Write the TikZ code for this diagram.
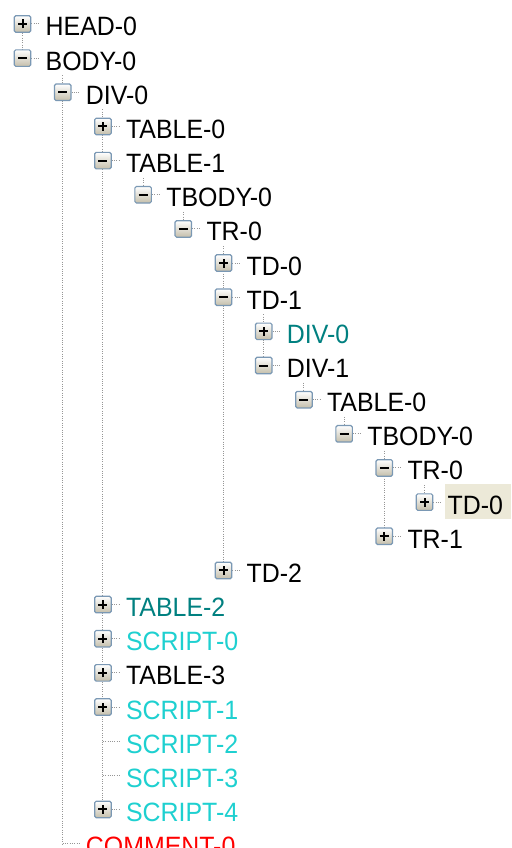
\documentclass[tikz,border=0pt]{standalone}
\usepackage{fontspec}
\newfontfamily\treefont[FakeStretch=0.94]{Liberation Sans}
\pgfdeclarelayer{background}
\pgfsetlayers{background,main}
\definecolor{boxblue}{RGB}{122,152,180}
\definecolor{boxbot}{RGB}{196,190,170}
\definecolor{dotgrey}{RGB}{150,150,150}
\definecolor{tealtxt}{RGB}{0,128,128}
\definecolor{cyantxt}{RGB}{30,208,208}
\definecolor{redtxt}{RGB}{255,0,0}
\definecolor{hilite}{RGB}{236,233,216}
\tikzset{
  treebox/.style={draw=boxblue, line width=1.2pt, rounded corners=1.5pt, minimum size=16.5pt, inner sep=0pt, top color=white, bottom color=boxbot},
  plusbox/.style={treebox, path picture={
      \draw[black, line width=2pt] ([xshift=-4.5pt]path picture bounding box.center) -- ([xshift=4.5pt]path picture bounding box.center);
      \draw[black, line width=2pt] ([yshift=-4.5pt]path picture bounding box.center) -- ([yshift=4.5pt]path picture bounding box.center);}},
  minusbox/.style={treebox, path picture={
      \draw[black, line width=2pt] ([xshift=-4.5pt]path picture bounding box.center) -- ([xshift=4.5pt]path picture bounding box.center);}},
  lbl/.style={anchor=base west, inner xsep=5pt, inner ysep=0pt, font=\treefont\fontsize{26.5}{30}\selectfont},
  treeline/.style={dotgrey, line width=1pt, dash pattern=on 1pt off 1.3pt},
}
% #1 index, #2 level, #3 box style, #4 colour, #5 label
\newcommand\boxrow[5]{%
  \coordinate (r#1) at ({22.5+40.2*#2},{24+34.15*#1});
  \node[#3] (b#1) at (r#1) {};
  \node[lbl, text=#4] (t#1) at ([xshift=18pt,yshift=-12pt]r#1) {#5};
  \begin{pgfonlayer}{background}
    \draw[treeline] (b#1.east) -- (b#1 -| t#1.west);
  \end{pgfonlayer}}
\newcommand\leafrow[4]{%
  \coordinate (r#1) at ({22.5+40.2*#2},{24+34.15*#1});
  \node[lbl, text=#3] (t#1) at ([xshift=18pt,yshift=-12pt]r#1) {#4};
  \begin{pgfonlayer}{background}
    \draw[treeline] (r#1) -- (r#1 -| t#1.west);
  \end{pgfonlayer}}
\begin{document}
\begin{tikzpicture}[x=1pt,y=-1pt]
\path[use as bounding box, clip] (0,0) rectangle (511,848);
\begin{pgfonlayer}{background}
  \fill[white] (0,0) rectangle (511,848);
  \fill[hilite] (445,484) rectangle (511,519);
\end{pgfonlayer}
\boxrow{0}{0}{plusbox}{black}{HEAD-0}
\boxrow{1}{0}{minusbox}{black}{BODY-0}
\boxrow{2}{1}{minusbox}{black}{DIV-0}
\boxrow{3}{2}{plusbox}{black}{TABLE-0}
\boxrow{4}{2}{minusbox}{black}{TABLE-1}
\boxrow{5}{3}{minusbox}{black}{TBODY-0}
\boxrow{6}{4}{minusbox}{black}{TR-0}
\boxrow{7}{5}{plusbox}{black}{TD-0}
\boxrow{8}{5}{minusbox}{black}{TD-1}
\boxrow{9}{6}{plusbox}{tealtxt}{DIV-0}
\boxrow{10}{6}{minusbox}{black}{DIV-1}
\boxrow{11}{7}{minusbox}{black}{TABLE-0}
\boxrow{12}{8}{minusbox}{black}{TBODY-0}
\boxrow{13}{9}{minusbox}{black}{TR-0}
\boxrow{14}{10}{plusbox}{black}{TD-0}
\boxrow{15}{9}{plusbox}{black}{TR-1}
\boxrow{16}{5}{plusbox}{black}{TD-2}
\boxrow{17}{2}{plusbox}{tealtxt}{TABLE-2}
\boxrow{18}{2}{plusbox}{cyantxt}{SCRIPT-0}
\boxrow{19}{2}{plusbox}{black}{TABLE-3}
\boxrow{20}{2}{plusbox}{cyantxt}{SCRIPT-1}
\leafrow{21}{2}{cyantxt}{SCRIPT-2}
\leafrow{22}{2}{cyantxt}{SCRIPT-3}
\boxrow{23}{2}{plusbox}{cyantxt}{SCRIPT-4}
\leafrow{24}{1}{redtxt}{COMMENT-0}
\begin{pgfonlayer}{background}
  \draw[treeline] (r0) -- (r1);
  \draw[treeline] ([yshift=17pt]r2) -- (r24);
  \draw[treeline] ([yshift=17pt]r3) -- (r23);
  \draw[treeline] ([yshift=17pt]r5) -- (r5);
  \draw[treeline] ([yshift=17pt]r6) -- (r6);
  \draw[treeline] ([yshift=17pt]r7) -- (r16);
  \draw[treeline] ([yshift=17pt]r9) -- (r10);
  \draw[treeline] ([yshift=17pt]r11) -- (r11);
  \draw[treeline] ([yshift=17pt]r12) -- (r12);
  \draw[treeline] ([yshift=17pt]r13) -- (r15);
  \draw[treeline] ([yshift=17pt]r14) -- (r14);
\end{pgfonlayer}
\end{tikzpicture}
\end{document}
